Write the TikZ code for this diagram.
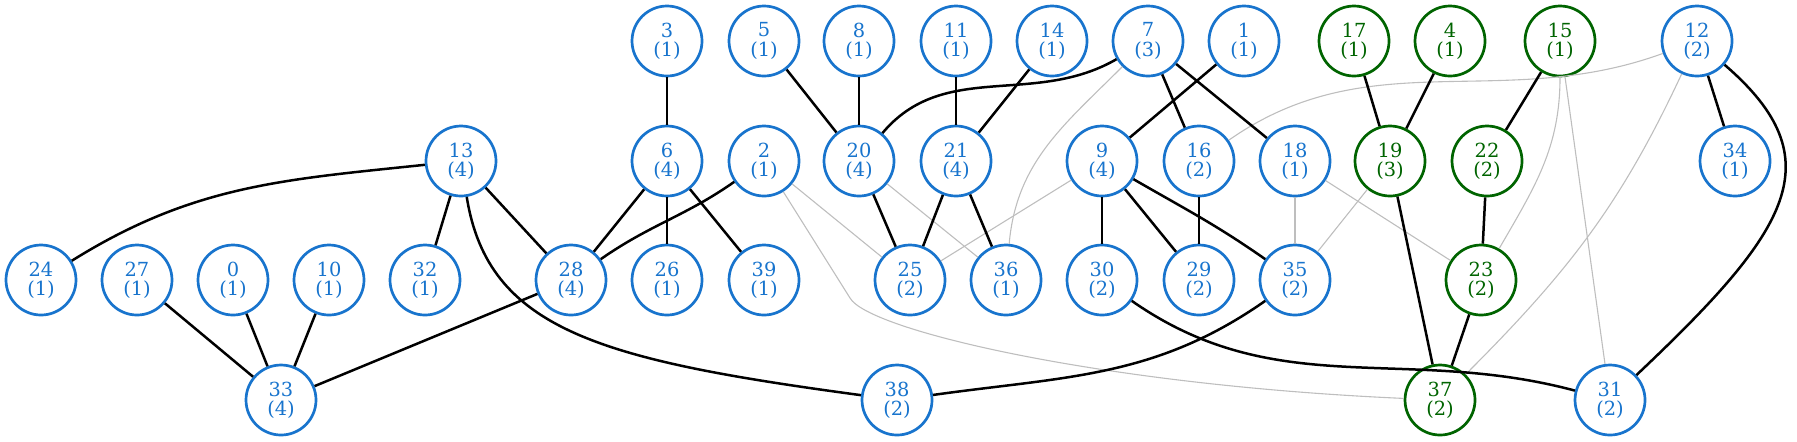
\documentclass[tikz,border=0pt]{standalone}
\usepackage{fontspec}
\setmainfont{DejaVu Serif}
\definecolor{nblue}{HTML}{1874CD}
\definecolor{ngreen}{HTML}{006400}
\definecolor{egray}{HTML}{BEBEBE}
\tikzset{
  vb/.style={circle, draw=nblue, text=nblue, line width=1.35pt, minimum size=35pt, inner sep=0pt, align=center, font=\fontsize{9.7}{9.6}\selectfont},
  vg/.style={vb, draw=ngreen, text=ngreen},
  blk/.style={line width=1.25pt, black},
  gry/.style={line width=0.55pt, egray},
}
\begin{document}
\begin{tikzpicture}[x=0.5pt,y=-0.5pt]
\useasboundingbox (0,0) rectangle (1797,441);
% top row
\node[vb] (n3) at (667,41) {3\\(1)};
\node[vb] (n5) at (764,41) {5\\(1)};
\node[vb] (n8) at (859,41) {8\\(1)};
\node[vb] (n11) at (956,41) {11\\(1)};
\node[vb] (n14) at (1052,41) {14\\(1)};
\node[vb] (n7) at (1148,41) {7\\(3)};
\node[vb] (n1) at (1244,41) {1\\(1)};
\node[vg] (n17) at (1354,41) {17\\(1)};
\node[vg] (n4) at (1450,41) {4\\(1)};
\node[vg] (n15) at (1560,41) {15\\(1)};
\node[vb] (n12) at (1697,41) {12\\(2)};
% row 2
\node[vb] (n13) at (461,161) {13\\(4)};
\node[vb] (n6) at (667,161) {6\\(4)};
\node[vb] (n2) at (764,161) {2\\(1)};
\node[vb] (n20) at (859,161) {20\\(4)};
\node[vb] (n21) at (956,161) {21\\(4)};
\node[vb] (n9) at (1102,161) {9\\(4)};
\node[vb] (n16) at (1199,161) {16\\(2)};
\node[vb] (n18) at (1295,161) {18\\(1)};
\node[vg] (n19) at (1390,161) {19\\(3)};
\node[vg] (n22) at (1487,161) {22\\(2)};
\node[vb] (n34) at (1735,161) {34\\(1)};
% row 3
\node[vb] (n24) at (41,280) {24\\(1)};
\node[vb] (n27) at (137,280) {27\\(1)};
\node[vb] (n0) at (233,280) {0\\(1)};
\node[vb] (n10) at (329,280) {10\\(1)};
\node[vb] (n32) at (425,280) {32\\(1)};
\node[vb] (n28) at (571,280) {28\\(4)};
\node[vb] (n26) at (667,280) {26\\(1)};
\node[vb] (n39) at (764,280) {39\\(1)};
\node[vb] (n25) at (910,280) {25\\(2)};
\node[vb] (n36) at (1006,280) {36\\(1)};
\node[vb] (n30) at (1102,280) {30\\(2)};
\node[vb] (n29) at (1199,280) {29\\(2)};
\node[vb] (n35) at (1295,280) {35\\(2)};
\node[vg] (n23) at (1481,280) {23\\(2)};
% row 4
\node[vb] (n33) at (281,400) {33\\(4)};
\node[vb] (n38) at (897,400) {38\\(2)};
\node[vg] (n37) at (1440,400) {37\\(2)};
\node[vb] (n31) at (1610,400) {31\\(2)};
% gray edges
\coordinate (k2) at (850,298);
\draw[gry] (n2) -- (n25);
\draw[gry] (n20) -- (n36);
\draw[gry] (n9) -- (n25);
\draw[gry] (n18) -- (n35);
\draw[gry] (n18) -- (n23);
\draw[gry] (n19) -- (n35);
\draw[gry] (n15) -- (n31);
\draw[gry] (n7) to[out=-135,in=85] (n36);
\draw[gry] (n12) to[out=-160,in=35] (n16);
\draw[gry] (n15) to[out=-90,in=60] (n23);
\draw[gry] (n12) to[out=-115,in=45] (n37);
\draw[gry] (n2) -- (k2) .. controls (868,330) and (1100,385) .. (n37);
% black edges
\draw[blk] (n13) to[out=186,in=32] (n24);
\draw[blk] (n13) -- (n32);
\draw[blk] (n13) -- (n28);
\draw[blk] (n13) .. controls (488,330) and (600,360) .. (n38);
\draw[blk] (n27) -- (n33);
\draw[blk] (n0) -- (n33);
\draw[blk] (n10) -- (n33);
\draw[blk] (n28) -- (n33);
\draw[blk] (n3) -- (n6);
\draw[blk] (n6) -- (n28);
\draw[blk] (n6) -- (n26);
\draw[blk] (n6) -- (n39);
\draw[blk] (n2) to[out=215,in=35] (n28);
\draw[blk] (n5) -- (n20);
\draw[blk] (n8) -- (n20);
\draw[blk] (n7) to[out=210,in=50] (n20);
\draw[blk] (n11) -- (n21);
\draw[blk] (n14) -- (n21);
\draw[blk] (n20) -- (n25);
\draw[blk] (n21) -- (n25);
\draw[blk] (n21) -- (n36);
\draw[blk] (n1) -- (n9);
\draw[blk] (n7) -- (n16);
\draw[blk] (n7) -- (n18);
\draw[blk] (n9) -- (n30);
\draw[blk] (n9) -- (n29);
\draw[blk] (n9) to[out=-30,in=145] (n35);
\draw[blk] (n16) -- (n29);
\draw[blk] (n30) to[out=-35,in=165] (n31);
\draw[blk] (n35) to[out=215,in=8] (n38);
\draw[blk] (n17) -- (n19);
\draw[blk] (n4) -- (n19);
\draw[blk] (n15) -- (n22);
\draw[blk] (n19) -- (n37);
\draw[blk] (n22) -- (n23);
\draw[blk] (n23) -- (n37);
\draw[blk] (n12) -- (n34);
\draw[blk] (n12) .. controls (1835,160) and (1790,230) .. (n31);
\end{tikzpicture}
\end{document}
